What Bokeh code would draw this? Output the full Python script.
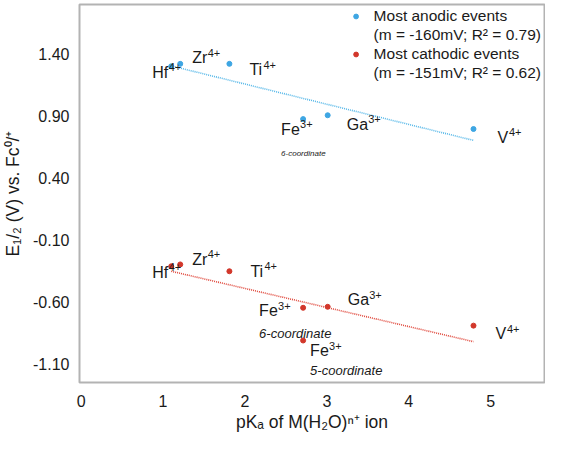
import numpy as np
from bokeh.plotting import figure
from bokeh.models import (ColumnDataSource, Range1d, FixedTicker,
                          NumeralTickFormatter, Legend, LegendItem)
from bokeh.core.properties import value
from bokeh.embed import file_html
from bokeh.resources import INLINE

# ---------------- data ----------------
ions_anodic = ["Hf", "Zr", "Ti", "Fe", "Ga", "V"]
charge_anodic = ["4+", "4+", "4+", "3+", "3+", "4+"]
pka_anodic = [1.10, 1.21, 1.81, 2.71, 3.01, 4.79]
e_anodic = [1.30, 1.32, 1.32, 0.874, 0.905, 0.794]
notes_anodic = ["", "", "", "6-coordinate", "", ""]

ions_cathodic = ["Hf", "Zr", "Ti", "Fe", "Ga", "Fe", "V"]
charge_cathodic = ["4+", "4+", "4+", "3+", "3+", "3+", "4+"]
pka_cathodic = [1.10, 1.21, 1.81, 2.71, 3.01, 2.71, 4.79]
e_cathodic = [-0.314, -0.299, -0.354, -0.649, -0.641, -0.913, -0.793]
notes_cathodic = ["", "", "", "6-coordinate", "", "5-coordinate", ""]

x_ticks = [0, 1, 2, 3, 4, 5]
y_ticks = [1.40, 0.90, 0.40, -0.10, -0.60, -1.10]
legend_titles = ["Most anodic events", "Most cathodic events"]
legend_fits = ["(m = -160mV; R² = 0.79)", "(m = -151mV; R² = 0.62)"]

# ---------------- layout (label pixel offsets) ----------------
dx_anodic = [-19, 12, 20, -22, 19, 24]
dy_anodic = [6, -6, 6, 10, 9, 8]
ndy_anodic = [0, 0, 0, 24, 0, 0]
dx_cathodic = [-19, 12, 21, -44, 20, 7, 22]
dy_cathodic = [6, -5, 0, 3, -7, 10, 8]
ndy_cathodic = [0, 0, 0, 23, 0, 20, 0]
base_width = {"Hf": 16.5, "Zr": 15.5, "Ti": 14, "Fe": 19, "Ga": 21.5, "V": 11.5}
sup_rise = -5

BLUE = "#3ea6e3"
BLUE_LINE = "#55b7e8"
RED = "#d2372b"
RED_LINE = "#e0493d"
FONT = "Liberation Sans"
TXT = "#1a1a1a"

p = figure(width=545, height=434, output_backend="svg", toolbar_location=None,
           x_range=Range1d(-0.02, 5.657), y_range=Range1d(-1.252, 1.799),
           min_border_left=70, min_border_right=1, min_border_top=4,
           min_border_bottom=48)

p.xgrid.visible = False
p.ygrid.visible = False
p.outline_line_color = "#b3b3b3"
p.outline_line_width = 2

for ax in (p.xaxis, p.yaxis):
    ax.axis_line_color = None
    ax.major_tick_line_color = None
    ax.minor_tick_line_color = None
    ax.major_label_text_font = FONT
    ax.major_label_text_font_size = "16px"
    ax.major_label_text_color = TXT
    ax.axis_label_text_font = FONT
    ax.axis_label_text_font_size = "17.5px"
    ax.axis_label_text_font_style = "normal"
    ax.axis_label_text_color = TXT

p.xaxis.ticker = FixedTicker(ticks=x_ticks)
p.yaxis.ticker = FixedTicker(ticks=y_ticks)
p.yaxis.formatter = NumeralTickFormatter(format="0.00")
p.xaxis.major_label_standoff = 6
p.yaxis.major_label_standoff = 4
p.xaxis.axis_label = "pKₐ of M(H₂O)ⁿ⁺ ion"
p.yaxis.axis_label = "E₁/₂ (V) vs. Fc⁰/⁺"
p.xaxis.axis_label_standoff = 2
p.yaxis.axis_label_standoff = 7

# ---------------- trend lines (least squares fits) ----------------
def fit_line(xs, ys):
    m, b = np.polyfit(np.array(xs), np.array(ys), 1)
    xx = np.array([min(xs), max(xs)])
    return xx, m * xx + b

lx, ly = fit_line(pka_anodic, e_anodic)
p.line(lx, ly, line_color=BLUE_LINE, line_width=1.6, line_dash="1 1")
lx, ly = fit_line(pka_cathodic, e_cathodic)
p.line(lx, ly, line_color=RED_LINE, line_width=1.6, line_dash="1 1")

# ---------------- points ----------------
def make_source(xs, ys, ions, charges, notes, dx, dy, ndy):
    return ColumnDataSource(dict(
        x=xs, y=ys, ion=ions, charge=charges, note=notes, dx=dx, dy=dy,
        sdx=[a + base_width[i] for a, i in zip(dx, ions)],
        sdy=[b + sup_rise for b in dy],
        ndy=[a + b for a, b in zip(dy, ndy)]))

src_a = make_source(pka_anodic, e_anodic, ions_anodic, charge_anodic,
                    notes_anodic, dx_anodic, dy_anodic, ndy_anodic)
src_c = make_source(pka_cathodic, e_cathodic, ions_cathodic, charge_cathodic,
                    notes_cathodic, dx_cathodic, dy_cathodic, ndy_cathodic)

r_a = p.scatter("x", "y", source=src_a, size=5, fill_color=BLUE, line_color=BLUE)
r_c = p.scatter("x", "y", source=src_c, size=5, fill_color=RED, line_color=RED)

# ion labels with superscript charges
for src in (src_a, src_c):
    p.text(x="x", y="y", text="ion", source=src, x_offset="dx", y_offset="dy",
           text_font=value(FONT), text_font_size="16px", text_color=TXT,
           text_baseline="middle", text_align="left")
    p.text(x="x", y="y", text="charge", source=src, x_offset="sdx", y_offset="sdy",
           text_font=value(FONT), text_font_size="11px", text_color=TXT,
           text_baseline="middle", text_align="left")

p.text(x="x", y="y", text="note", source=src_a, x_offset="dx", y_offset="ndy",
       text_font=value(FONT), text_font_size="8px", text_font_style="italic",
       text_color=TXT, text_baseline="middle", text_align="left")
p.text(x="x", y="y", text="note", source=src_c, x_offset="dx", y_offset="ndy",
       text_font=value(FONT), text_font_size="13px", text_font_style="italic",
       text_color=TXT, text_baseline="middle", text_align="left")

# ---------------- legend ----------------
legend = Legend(items=[LegendItem(label=legend_titles[0], renderers=[r_a]),
                       LegendItem(label=legend_fits[0], renderers=[]),
                       LegendItem(label=legend_titles[1], renderers=[r_c]),
                       LegendItem(label=legend_fits[1], renderers=[])],
                location="top_right", margin=3, padding=2, spacing=1,
                glyph_width=12, glyph_height=12, label_height=18,
                label_standoff=12,
                label_text_font=FONT, label_text_font_size="15.5px",
                label_text_color=TXT, label_text_baseline="middle",
                border_line_color=None, background_fill_alpha=0)
p.add_layout(legend)

open("out.html", "w").write(file_html(p, INLINE))
